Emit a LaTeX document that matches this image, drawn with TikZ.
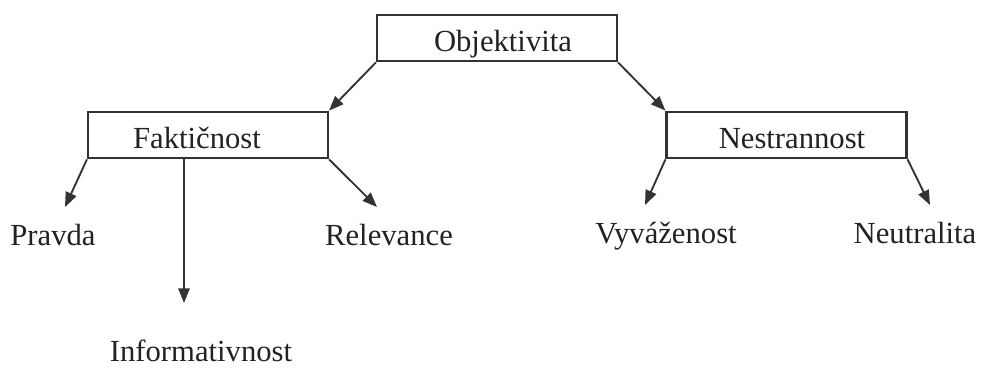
\documentclass[tikz,border=0pt]{standalone}
\usepackage{fontspec}
\setmainfont{Liberation Serif}
\usetikzlibrary{arrows.meta}
\definecolor{linec}{HTML}{333333}
\definecolor{textc}{HTML}{222222}
\tikzset{
  box/.style={draw=linec, line width=1.6pt, fill=white, minimum width=180pt, minimum height=35pt, inner sep=0pt},
  lbl/.style={text=textc, inner sep=0pt, anchor=base, font=\fontsize{23pt}{26pt}\selectfont},
  conn/.style={draw=linec, line width=1.4pt, -{Triangle[length=11pt,width=8.5pt]}}
}
\begin{document}
\begin{tikzpicture}[x=0.75pt,y=-0.75pt]
\useasboundingbox (0,0) rectangle (984,368);
% boxes
\node[box] (obj) at (497,38) {};
\node[box] (fak) at (208,135) {};
\node[box] (nes) at (786.5,135) {};
\node[lbl] (objT) at (503,51) {Objektivita};
\node[lbl] (fakT) at (197,148) {Faktičnost};
\node[lbl] (nesT) at (792,148) {Nestrannost};
% leaves
\node[lbl] (pra) at (53,245) {Pravda};
\node[lbl] (rel) at (389,245) {Relevance};
\node[lbl] (inf) at (201,361) {Informativnost};
\node[lbl] (vyv) at (666,243) {Vyváženost};
\node[lbl] (neu) at (915,243) {Neutralita};
% arrow tips
\coordinate (tP) at (65,207);
\coordinate (tR) at (377,207);
\coordinate (tI) at (184,303);
\coordinate (tV) at (645,205);
\coordinate (tN) at (930,205);
\coordinate (fakV) at (184,159);
% connectors
\draw[conn] (obj.south west) -- (fak.north east);
\draw[conn] (obj.south east) -- (nes.north west);
\draw[conn] (fak.south west) -- (tP);
\draw[conn] (fak.south east) -- (tR);
\draw[conn] (fakV) -- (tI);
\draw[conn] (nes.south west) -- (tV);
\draw[conn] (nes.south east) -- (tN);
\end{tikzpicture}
\end{document}
